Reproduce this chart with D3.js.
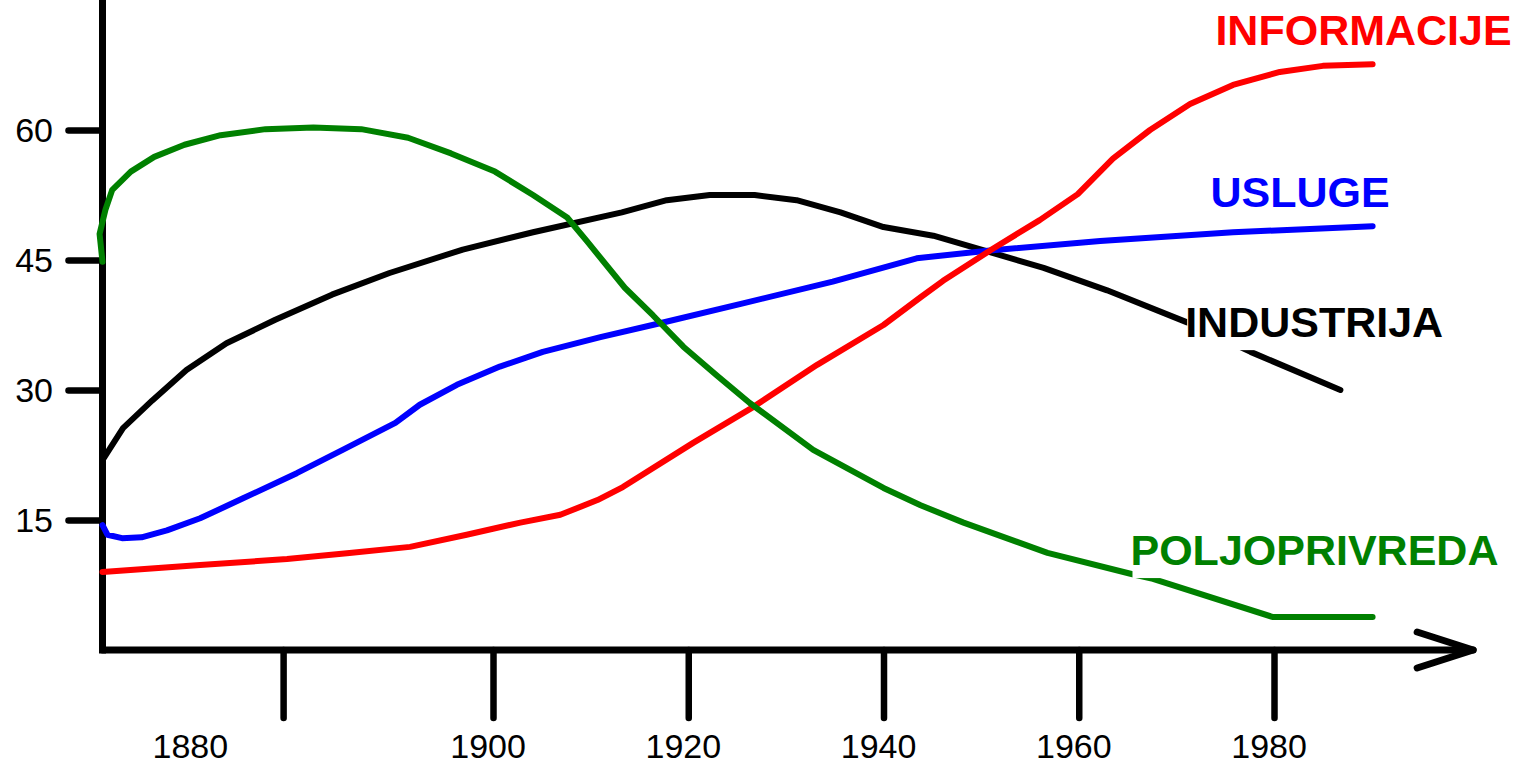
<!DOCTYPE html>
<html>
<head>
<meta charset="utf-8">
<script src="https://cdn.jsdelivr.net/npm/d3@7"></script>
<style>
  body { margin: 0; background: #ffffff; }
  svg { display: block; }
</style>
</head>
<body>
<div id="chart"></div>
<script>
// Series (year, share in %)
const years_informacije = [1860, 1870, 1878.9, 1885.3, 1891.5, 1897.3, 1902.8, 1906.9, 1910.7, 1913.3, 1920.5, 1926.6, 1933.2, 1940, 1943.8, 1946.1, 1951.2, 1956, 1959.9, 1963.5, 1967.3, 1971.4, 1975.8, 1980.6, 1985, 1990.1];
const values_informacije = [9.0, 9.8, 10.5, 11.2, 11.9, 13.3, 14.7, 15.6, 17.3, 18.8, 23.9, 28.0, 32.9, 37.5, 40.7, 42.6, 46.3, 49.6, 52.6, 56.7, 60.0, 63.0, 65.2, 66.7, 67.4, 67.6];

const years_usluge = [1860, 1860.5, 1862, 1864, 1866.6, 1870, 1874.4, 1879.9, 1884.6, 1890, 1892.5, 1896.3, 1900.7, 1905.1, 1911, 1917.1, 1925.6, 1934.8, 1943.4, 1950.9, 1962.2, 1975.8, 1990.1];
const values_usluge = [14.4, 13.3, 12.9, 13.0, 13.8, 15.2, 17.5, 20.4, 23.1, 26.2, 28.3, 30.6, 32.7, 34.4, 36.1, 37.7, 40.0, 42.5, 45.2, 46.1, 47.2, 48.2, 48.9];

const years_industrija = [1860, 1862.1, 1865.1, 1868.6, 1872.7, 1877.7, 1883.5, 1889.4, 1896.9, 1904.1, 1913.2, 1917.8, 1922.2, 1926.8, 1931.1, 1935.6, 1940, 1945.1, 1950.9, 1956.4, 1962.9, 1971.1, 1977.6, 1986.8];
const values_industrija = [21.9, 25.6, 28.8, 32.3, 35.4, 38.1, 41.0, 43.5, 46.2, 48.2, 50.5, 51.9, 52.5, 52.5, 51.9, 50.5, 48.8, 47.8, 45.9, 44.1, 41.5, 37.8, 34.4, 30.0];

const years_poljoprivreda = [1860, 1859.7, 1860.3, 1861, 1862.9, 1865.3, 1868.4, 1872.1, 1876.7, 1881.6, 1886.5, 1891.3, 1895.7, 1900.2, 1904.1, 1907.6, 1909.6, 1913.5, 1916.4, 1919.5, 1922.9, 1926.3, 1932.8, 1940, 1943.8, 1948.2, 1956.8, 1965.3, 1967.6, 1979.9, 1990.1];
const values_poljoprivreda = [44.8, 48.0, 50.8, 53.1, 55.2, 56.9, 58.3, 59.4, 60.1, 60.3, 60.1, 59.1, 57.3, 55.2, 52.5, 49.9, 47.2, 41.8, 38.6, 35.0, 31.7, 28.5, 23.1, 18.7, 16.7, 14.7, 11.2, 8.8, 8.2, 3.8, 3.8];

// Axis ticks
const yTicks = [15, 30, 45, 60];
const xTicks = [1878.5, 1900, 1920, 1940, 1960, 1980];
const xTickLabels = ["1880", "1900", "1920", "1940", "1960", "1980"];
const xTickLabelYears = [1869, 1899.5, 1919.5, 1939.5, 1959.5, 1979.5];

// Series names and colours
const seriesNames = ["INDUSTRIJA", "USLUGE", "INFORMACIJE", "POLJOPRIVREDA"];
const seriesColors = ["#000000", "#0000ff", "#ff0000", "#008000"];

const width = 1520;
const height = 764;
const font = "'Liberation Sans', Arial, sans-serif";
const axisWidth = 7;

const svg = d3.select("#chart")
    .append("svg")
    .attr("width", width)
    .attr("height", height);

const x = d3.scaleLinear()
    .domain([1860, 1980])
    .range([102.5, 1274]);
const y = d3.scaleLinear()
    .domain([0, 75])
    .range([650, 0]);

function drawAxes(svg, x, y) {
    const x0 = x(1860);
    const y0 = y(0);
    const xEnd = x(2000.4);

    // Vertical axis
    svg.append("line")
        .attr("x1", x0).attr("y1", y(75) - 5)
        .attr("x2", x0).attr("y2", y0)
        .attr("stroke", "#000")
        .attr("stroke-width", axisWidth)
        .attr("stroke-linecap", "square");

    // Horizontal axis with arrow
    svg.append("line")
        .attr("x1", x0).attr("y1", y0)
        .attr("x2", xEnd).attr("y2", y0)
        .attr("stroke", "#000")
        .attr("stroke-width", axisWidth)
        .attr("stroke-linecap", "round");
    svg.append("path")
        .attr("d", `M${xEnd - 56},${y0 - 18} L${xEnd},${y0} L${xEnd - 56},${y0 + 18}`)
        .attr("fill", "none")
        .attr("stroke", "#000")
        .attr("stroke-width", axisWidth)
        .attr("stroke-linecap", "round")
        .attr("stroke-linejoin", "round");

    // x ticks below the axis
    const xAxis = svg.append("g")
        .attr("transform", `translate(0,${y0})`)
        .call(d3.axisBottom(x).tickValues(xTicks).tickSize(68).tickFormat(""));
    xAxis.select(".domain").remove();
    xAxis.selectAll(".tick line")
        .attr("stroke", "#000")
        .attr("stroke-width", 6.5)
        .attr("stroke-linecap", "round");

    svg.append("g")
        .selectAll("text")
        .data(xTickLabels)
        .enter()
        .append("text")
        .attr("x", (d, i) => x(xTickLabelYears[i]))
        .attr("y", y0 + 108)
        .attr("text-anchor", "middle")
        .attr("font-family", font)
        .style("font-size", "34px")
        .attr("fill", "#000")
        .text(d => d);

    // y ticks left of the axis
    const yAxis = svg.append("g")
        .attr("transform", `translate(${x0},0)`)
        .call(d3.axisLeft(y).tickValues(yTicks).tickSize(34).tickFormat(""));
    yAxis.select(".domain").remove();
    yAxis.selectAll(".tick line")
        .attr("stroke", "#000")
        .attr("stroke-width", 6.5)
        .attr("stroke-linecap", "round");

    svg.append("g")
        .selectAll("text")
        .data(yTicks)
        .enter()
        .append("text")
        .attr("x", 53)
        .attr("y", d => y(d))
        .attr("dy", "0.35em")
        .attr("text-anchor", "end")
        .attr("font-family", font)
        .style("font-size", "34px")
        .attr("fill", "#000")
        .text(d => d);
}

function drawSeries(svg, years, values, color) {
    const data = years.map((yr, i) => ({ x: yr, y: values[i] }));
    svg.append("path")
        .datum(data)
        .attr("fill", "none")
        .attr("stroke", color)
        .attr("stroke-width", 6)
        .attr("stroke-linecap", "round")
        .attr("stroke-linejoin", "round")
        .attr("d", d3.line()
            .x(d => x(d.x))
            .y(d => y(d.y))
        );
}

function addLabel(svg, text, color, year, value) {
    // Bold label with a white box that hides the line behind it
    const g = svg.append("g");
    const t = g.append("text")
        .attr("x", x(year))
        .attr("y", y(value))
        .attr("font-family", font)
        .attr("font-weight", "bold")
        .style("font-size", "43px")
        .attr("fill", color)
        .text(text);
    const bb = t.node().getBBox();
    g.insert("rect", "text")
        .attr("x", bb.x + 2)
        .attr("y", bb.y)
        .attr("width", bb.width)
        .attr("height", bb.height + 4)
        .attr("fill", "#fff");
}

drawAxes(svg, x, y);

drawSeries(svg, years_industrija, values_industrija, seriesColors[0]);
drawSeries(svg, years_usluge, values_usluge, seriesColors[1]);
drawSeries(svg, years_informacije, values_informacije, seriesColors[2]);
drawSeries(svg, years_poljoprivreda, values_poljoprivreda, seriesColors[3]);

addLabel(svg, seriesNames[2], seriesColors[2], 1974.0, 69.8);
addLabel(svg, seriesNames[1], seriesColors[1], 1973.5, 51.1);
addLabel(svg, seriesNames[0], seriesColors[0], 1970.9, 36.1);
addLabel(svg, seriesNames[3], seriesColors[3], 1965.3, 9.8);
</script>
</body>
</html>
